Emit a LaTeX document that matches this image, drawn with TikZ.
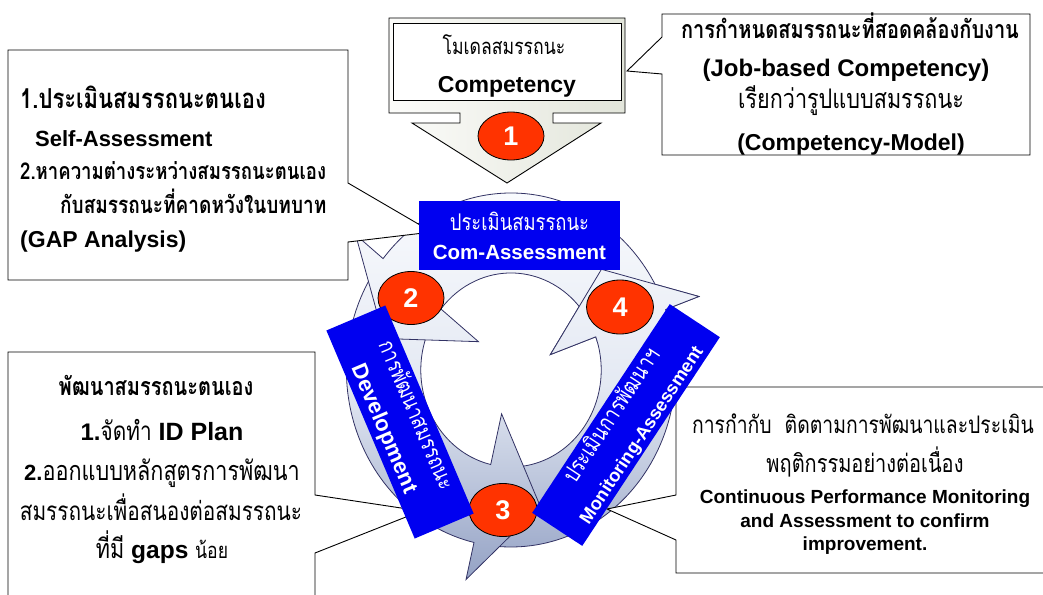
\documentclass[tikz,border=0pt]{standalone}
\usepackage{fontspec}
\setmainfont{Liberation Sans}
\newfontfamily\thai[Script=Thai,FakeStretch=0.8]{Loma}
\usetikzlibrary{shapes.geometric}

\definecolor{numred}{RGB}{255,51,0}
\definecolor{boxblue}{RGB}{0,0,240}
\definecolor{ringline}{RGB}{50,50,100}
\definecolor{ringtop}{RGB}{252,253,255}
\definecolor{ringmid}{RGB}{228,233,243}
\definecolor{ringbot}{RGB}{140,155,192}
\definecolor{frameleft}{RGB}{252,252,250}
\definecolor{frameright}{RGB}{226,229,218}

\tikzset{
  numdot/.style={ellipse, draw=black, line width=0.8pt, fill=numred, text=white,
    font=\bfseries\fontsize{27}{27}\selectfont, inner sep=0pt},
  bluebox/.style={fill=boxblue, text=white, align=center, inner sep=0pt,
    font=\fontsize{20}{28}\selectfont},
  callout/.style={draw=black, fill=white, line width=0.9pt},
  ringedge/.style={draw=ringline, line width=0.8pt},
  txt/.style={inner sep=0pt, anchor=base},
  txtl/.style={inner sep=0pt, anchor=base west},
}

% one arrow of the cycle: [style] tail, barbs, tip
\newcommand{\cyclearrow}[4][]{%
  \path[#1] (#2:97) arc[start angle=#2, end angle=#3, radius=97]
    -- (#3:45) -- (#4:140) -- (#3:215) -- (#3:177)
    arc[start angle=#3, end angle=#2, radius=177] -- cycle;}
% shaded arrow with its outline
\newcommand{\shadearrow}[3]{%
  \begin{scope}
    \cyclearrow[clip]{#1}{#2}{#3}
    \shade[top color=ringtop, bottom color=ringbot, middle color=ringmid]
      (-260,-200) rectangle (260,230);
  \end{scope}
  \cyclearrow[ringedge]{#1}{#2}{#3}}

\begin{document}
\begin{tikzpicture}[x=1pt, y=-1pt]
\useasboundingbox (0,0) rectangle (1043,594);

% Cycle of three arrows
\begin{scope}[shift={(511,370)}, xscale=0.93]
  \shadearrow{100}{-20}{-46}
  \shadearrow{-144}{-257}{-283}
  \shadearrow{-23}{-141}{-167}
  \begin{scope}
    \clip (0,0) -- (-17:260) arc[start angle=-17, end angle=-52, radius=260] -- cycle;
    \shadearrow{100}{-20}{-46}
  \end{scope}
\end{scope}

% Callouts
\draw[callout] (8,50) -- (348,50) -- (348,183) -- (432,232) -- (348,242)
  -- (348,280) -- (8,280) -- cycle;
\draw[callout] (662,14) -- (1030,14) -- (1030,155) -- (662,155) -- (662,74)
  -- (627,71) -- (662,37) -- cycle;
\draw[callout] (8,352) -- (315,352) -- (315,495) -- (421,511) -- (315,553)
  -- (315,600) -- (8,600) -- cycle;
\draw[callout] (676,387) -- (1050,387) -- (1050,573) -- (676,573) -- (676,540)
  -- (607,509) -- (676,495) -- cycle;

% Down arrow callout at the top
\draw[line width=0.9pt, left color=frameleft, right color=frameright]
  (389,18) -- (625,18) -- (625,113) -- (553,113) -- (553,123) -- (601,123)
  -- (507,183) -- (412,123) -- (460,123) -- (460,113) -- (389,113) -- cycle;
\draw[fill=white, line width=0.8pt] (393,23) rectangle (621,100);

% Texts
\node[txt, font=\thai\fontsize{22}{22}\selectfont] (tcth) at (504,55) {โมเดลสมรรถนะ};
\node[txt, font=\bfseries\fontsize{23}{23}\selectfont] (tcen) at (507,92) {Competency};

\node[txt, font=\thai\bfseries\fontsize{25}{25}\selectfont] (tr1) at (850,38) {การกำหนดสมรรถนะที่สอดคล้องกับงาน};
\node[txt, font=\bfseries\fontsize{24}{24}\selectfont] (tr2) at (846,77) {(Job-based Competency)};
\node[txt, font=\thai\fontsize{27}{27}\selectfont] (tr3) at (851,108) {เรียกว่ารูปแบบสมรรถนะ};
\node[txt, font=\bfseries\fontsize{23}{23}\selectfont] (tr4) at (851,150) {(Competency-Model)};

\node[txtl, font=\thai\bfseries\fontsize{27.5}{27.5}\selectfont] (tl1) at (20,108) {1.ประเมินสมรรถนะตนเอง};
\node[txtl, font=\bfseries\fontsize{22}{22}\selectfont] (tl2) at (35,146) {Self-Assessment};
\node[txtl, font=\thai\bfseries\fontsize{23.2}{23.2}\selectfont] (tl3) at (20,179) {2.หาความต่างระหว่างสมรรถนะตนเอง};
\node[txtl, font=\thai\bfseries\fontsize{23.8}{23.8}\selectfont] (tl4) at (60,213) {กับสมรรถนะที่คาดหวังในบทบาท};
\node[txtl, font=\bfseries\fontsize{23}{23}\selectfont] (tl5) at (20,247) {(GAP Analysis)};

\node[txt, font=\thai\bfseries\fontsize{25}{25}\selectfont] (bl1) at (156,395) {พัฒนาสมรรถนะตนเอง};
\node[txt] (bl2) at (162,440) {{\bfseries\fontsize{24}{24}\selectfont 1.}{\thai\fontsize{26}{26}\selectfont จัดทำ}{\bfseries\fontsize{25}{25}\selectfont\ ID Plan}};
\node[txt] (bl3) at (162,480) {{\bfseries\fontsize{22}{22}\selectfont 2.}{\thai\fontsize{27}{27}\selectfont ออกแบบหลักสูตรการพัฒนา}};
\node[txt, font=\thai\fontsize{26}{26}\selectfont] (bl4) at (161,520) {สมรรถนะเพื่อสนองต่อสมรรถนะ};
\node[txt] (bl5) at (162,558) {{\thai\fontsize{27}{27}\selectfont ที่มี}{\bfseries\fontsize{24.5}{24.5}\selectfont\ gaps\ }{\thai\fontsize{22}{22}\selectfont น้อย}};

\node[txt, font=\thai\fontsize{24.2}{24.2}\selectfont] (br1) at (863,433) {การกำกับ\ \ ติดตามการพัฒนาและประเมิน};
\node[txt, font=\thai\fontsize{25}{25}\selectfont] (br2) at (865,472) {พฤติกรรมอย่างต่อเนื่อง};
\node[txt, font=\bfseries\fontsize{19}{19}\selectfont] (br3) at (865,503) {Continuous Performance Monitoring};
\node[txt, font=\bfseries\fontsize{19}{19}\selectfont] (br4) at (865,527) {and Assessment to confirm};
\node[txt, font=\bfseries\fontsize{19}{19}\selectfont] (br5) at (865,550) {improvement.};

% Numbers
\node[numdot, minimum width=66pt, minimum height=48pt] (n1) at (511,136) {1};
\node[numdot, minimum width=66pt, minimum height=53pt] (n2) at (411,298) {2};
\node[numdot, minimum width=68pt, minimum height=53pt] (n3) at (503,510) {3};
\node[numdot, minimum width=67pt, minimum height=54pt] (n4) at (620,307) {4};

% Blue stage boxes
\node[bluebox, minimum width=201pt, minimum height=69pt] (comass) at (519.5,235.5)
  {{\thai\fontsize{23}{28}\selectfont ประเมินสมรรถนะ}\\[1pt]{\bfseries\fontsize{20.5}{28}\selectfont Com-Assessment}};
\node[bluebox, rotate=-67, minimum width=226pt, minimum height=64pt] (devel) at (400,422)
  {{\thai\fontsize{23}{28}\selectfont การพัฒนาสมรรถนะ}\\[6pt]{\bfseries\fontsize{22}{28}\selectfont Development}};
\node[bluebox, rotate=56.6, minimum width=250pt, minimum height=60pt] (monass) at (626,425)
  {{\thai\fontsize{23}{28}\selectfont ประเมินการพัฒนาฯ}\\[6pt]{\bfseries\fontsize{18.3}{28}\selectfont Monitoring-Assessment}};

\end{tikzpicture}
\end{document}
